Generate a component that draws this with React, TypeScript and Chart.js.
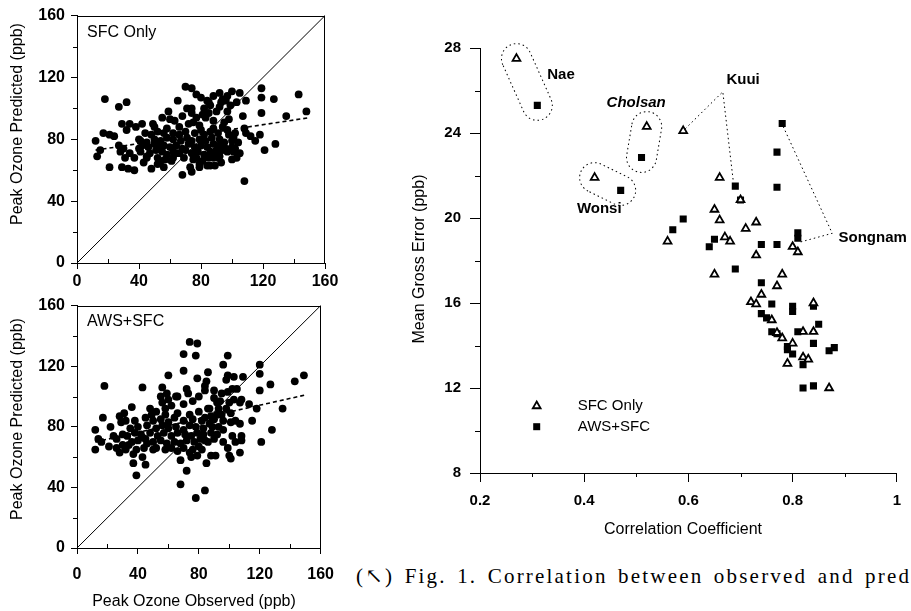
import { useEffect, useRef } from 'react';
import { Chart, registerables } from 'chart.js';

Chart.register(...registerables);

const FONT = "'Liberation Sans', Arial, Helvetica, sans-serif";

// ---------- Left panels: Peak ozone observed vs predicted (ppb) ----------
const ozoneTicks = [0, 40, 80, 120, 160];
const ozoneMinorTicks = [20, 60, 100, 140];

const sfcOnlyPoints: number[][] = [
  [18, 106], [27, 101], [32, 104], [12, 79], [13, 69], [15, 73], [17, 84], [21, 62], [21, 83], [24, 82],
  [27, 76], [28, 72], [29, 62], [33, 61], [29, 90], [32, 86], [34, 90], [38, 88], [42, 90], [37, 60],
  [48, 61], [45, 68], [43, 65], [37, 68], [34, 71], [40, 74], [41, 79], [31, 68], [30, 74],
  [70, 114], [74, 113], [77, 109], [65, 105], [84, 105], [85, 104], [86, 102], [100, 111], [105, 110], [119, 113],
  [119, 107], [127, 106], [143, 109], [148, 98], [135, 95], [119, 97], [103, 104], [109, 105], [99, 102], [97, 98],
  [98, 93], [96, 105], [97, 108], [77, 94], [79, 89], [71, 100], [74, 97], [60, 93], [59, 98], [56, 84],
  [55, 94], [49, 90], [81, 96], [83, 94], [90, 98], [92, 101], [93, 104], [94, 106], [107, 95], [108, 87],
  [109, 84], [112, 82], [115, 79], [118, 83], [121, 73], [128, 77], [105, 71], [102, 74], [103, 68], [100, 79],
  [101, 81], [102, 84], [98, 83], [108, 53],
  [90, 73], [88, 68], [92, 69], [93, 65], [89, 63], [86, 63], [84, 63], [79, 64], [77, 68], [68, 57],
  [73, 62], [62, 68], [64, 71], [54, 66], [45, 69], [91, 68], [100, 67], [101, 72], [52, 64], [56, 62],
  [79, 62], [74, 59],
  [50, 88], [58, 87], [66, 88], [72, 90], [80, 86], [88, 87], [94, 88],
  [44, 84], [48, 83], [52, 85], [62, 84], [66, 83], [70, 85], [76, 84], [82, 83], [86, 85], [91, 84],
  [40, 80], [45, 78], [50, 80], [54, 79], [58, 81], [62, 80], [67, 79], [71, 81], [74, 79], [79, 80],
  [83, 79], [87, 81], [92, 80], [95, 78],
  [42, 76], [46, 75], [50, 77], [53, 75], [56, 76], [60, 75], [64, 76], [68, 74], [72, 77], [76, 75],
  [80, 76], [84, 75], [88, 77], [92, 76], [96, 74],
  [41, 72], [47, 71], [51, 73], [55, 72], [58, 70], [62, 72], [66, 71], [70, 73], [74, 71], [78, 72],
  [82, 70], [86, 72], [90, 71], [94, 73],
  [52, 68], [57, 67], [61, 66], [69, 68], [75, 67], [81, 66], [85, 68],
  [97, 72], [100, 75], [104, 78], [97, 86], [95, 91], [88, 92], [85, 97], [82, 100], [88, 108], [92, 110],
  [80, 107], [74, 100], [68, 95], [63, 92], [75, 91],
];

const awsSfcPoints: number[][] = [
  [74, 136], [79, 135], [70, 128], [78, 127], [99, 127], [120, 121], [70, 117], [79, 112], [60, 114], [96, 121],
  [99, 114], [98, 111], [86, 116], [85, 110], [84, 107], [84, 104], [102, 105], [99, 103], [103, 113], [105, 105],
  [109, 113], [120, 115], [120, 104], [127, 108], [143, 110], [149, 114], [135, 92], [118, 92], [113, 95], [101, 89],
  [95, 102], [94, 97], [93, 92], [92, 88], [90, 104], [72, 105], [73, 102], [56, 106], [55, 100], [59, 102],
  [60, 98], [62, 94], [65, 100], [43, 106], [18, 107], [36, 93], [31, 89], [28, 87], [32, 84], [17, 86],
  [22, 80], [12, 78], [14, 72], [12, 65], [16, 70], [30, 75], [21, 67], [26, 66], [28, 63], [32, 65],
  [39, 65], [37, 62], [37, 56], [39, 48], [43, 60], [45, 55], [43, 73], [45, 72], [50, 65], [48, 92],
  [49, 88],
  [68, 42], [84, 38], [78, 33], [72, 51], [68, 58], [75, 60], [79, 61], [88, 61], [85, 56], [91, 61],
  [100, 61], [101, 59], [101, 83], [104, 84], [107, 63], [108, 71], [108, 74], [102, 74], [107, 82], [115, 84],
  [121, 70], [128, 78], [108, 98], [107, 96], [84, 71], [76, 65], [80, 67], [89, 80], [88, 87], [86, 92],
  [52, 90], [58, 88], [66, 89], [74, 88], [80, 90], [84, 86],
  [38, 84], [45, 86], [50, 84], [55, 85], [60, 83], [64, 86], [70, 84], [76, 85], [82, 84], [90, 85],
  [35, 79], [40, 80], [46, 81], [52, 79], [56, 81], [60, 79], [65, 80], [70, 78], [74, 81], [78, 80],
  [83, 79], [87, 82], [93, 80], [96, 84],
  [33, 74], [38, 76], [42, 75], [48, 76], [53, 74], [57, 76], [62, 74], [66, 76], [71, 75], [75, 74],
  [79, 76], [83, 75], [88, 76], [92, 75], [96, 78],
  [36, 70], [40, 71], [46, 69], [50, 70], [55, 71], [59, 69], [64, 70], [68, 69], [72, 71], [77, 70],
  [81, 72], [86, 70], [90, 72],
  [44, 66], [52, 66], [58, 65], [62, 66], [66, 64], [70, 66], [74, 63], [82, 65],
  [95, 88], [98, 92], [92, 96], [90, 99], [76, 97], [66, 100], [56, 96], [58, 92], [70, 95], [80, 100],
  [87, 92], [100, 96], [103, 98], [96, 70], [99, 66], [104, 70], [30, 68], [26, 72], [34, 68], [24, 74],
  [29, 83],
];

const oneToOneLine: number[][] = [[0, 0], [160, 160]];
const sfcOnlyFit: number[][] = [[12, 73], [150, 94]];
const awsSfcFit: number[][] = [[12, 70], [150, 101]];

// ---------- Right panel: Mean gross error vs correlation coefficient ----------
const corrTicks = [0.2, 0.4, 0.6, 0.8, 1];
const corrMinorTicks = [0.3, 0.5, 0.7, 0.9];
const errorTicks = [8, 12, 16, 20, 24, 28];
const errorMinorTicks = [10, 14, 18, 22, 26];

// [correlation, mean gross error]
const siteSfcOnly: number[][] = [
  [0.27, 27.5], [0.52, 24.3], [0.59, 24.1], [0.42, 21.9], [0.66, 21.9], [0.56, 18.9], [0.65, 20.4],
  [0.66, 19.9], [0.67, 19.1], [0.68, 18.9], [0.71, 19.5], [0.73, 19.8], [0.73, 18.25], [0.80, 18.65],
  [0.81, 18.4], [0.65, 17.35], [0.78, 17.35], [0.77, 16.8], [0.74, 16.4], [0.72, 16.05], [0.73, 15.95],
  [0.84, 16.0], [0.76, 15.2], [0.77, 14.6], [0.78, 14.35], [0.80, 14.1], [0.82, 14.65], [0.84, 14.65],
  [0.79, 13.15], [0.82, 13.45], [0.83, 13.35], [0.87, 12.0], [0.70, 20.85],
];
const siteAwsSfc: number[][] = [
  [0.31, 25.3], [0.51, 22.85], [0.47, 21.3], [0.78, 24.45], [0.77, 23.1], [0.77, 21.45], [0.69, 21.5],
  [0.70, 20.85], [0.59, 19.95], [0.57, 19.45], [0.65, 19.0], [0.64, 18.65], [0.74, 18.75], [0.77, 18.75],
  [0.81, 19.3], [0.81, 19.05], [0.69, 17.6], [0.74, 16.95], [0.76, 15.95], [0.80, 15.85], [0.80, 15.6],
  [0.84, 15.85], [0.74, 15.5], [0.75, 15.3], [0.76, 14.65], [0.77, 14.55], [0.79, 13.95], [0.79, 13.8],
  [0.80, 13.6], [0.81, 14.65], [0.84, 14.1], [0.85, 15.0], [0.82, 13.1], [0.82, 12.0], [0.84, 12.1],
  [0.87, 13.75], [0.88, 13.9],
];
const kuuiLeader: number[][] = [[0.594, 24.2], [0.666, 25.94], [0.686, 21.75]];
const songnamLeader: number[][] = [[0.782, 24.3], [0.876, 19.28], [0.812, 18.85]];
// site pairs enclosed in dotted capsules: [SFC-only index, AWS+SFC index]
const enclosedSites = [
  { name: 'Nae', tri: 0, sq: 0 },
  { name: 'Cholsan', tri: 1, sq: 1 },
  { name: 'Wonsi', tri: 3, sq: 2 },
];
const siteLabels = [
  { text: 'Nae', x: 0.329, y: 26.73, italic: false },
  { text: 'Cholsan', x: 0.443, y: 25.43, italic: true },
  { text: 'Kuui', x: 0.673, y: 26.49, italic: false },
  { text: 'Wonsi', x: 0.386, y: 20.42, italic: false },
  { text: 'Songnam', x: 0.888, y: 19.06, italic: false },
];

const toXY = (arr: number[][]) => arr.map(([x, y]) => ({ x, y }));

// ---------- plugins ----------
const framePlugin = {
  id: 'frame',
  afterDatasetsDraw(chart: any) {
    const { ctx, chartArea: a } = chart;
    ctx.save();
    ctx.strokeStyle = '#000';
    ctx.lineWidth = 1;
    ctx.beginPath();
    ctx.moveTo(a.left, Math.round(a.top) + 0.5);
    ctx.lineTo(a.right, Math.round(a.top) + 0.5);
    ctx.moveTo(Math.round(a.right) - 0.5, a.top);
    ctx.lineTo(Math.round(a.right) - 0.5, a.bottom);
    ctx.stroke();
    ctx.restore();
  },
};

function minorTicks(xs: number[], ys: number[], xLen: number, yLen: number) {
  return {
    id: 'minorTicks',
    afterDraw(chart: any) {
      const { ctx, chartArea: a, scales } = chart;
      ctx.save();
      ctx.strokeStyle = '#000';
      ctx.lineWidth = 1;
      ctx.beginPath();
      xs.forEach((v) => {
        const px = Math.round(scales.x.getPixelForValue(v)) + 0.5;
        ctx.moveTo(px, a.bottom);
        ctx.lineTo(px, a.bottom + xLen);
      });
      ys.forEach((v) => {
        const py = Math.round(scales.y.getPixelForValue(v)) + 0.5;
        ctx.moveTo(a.left, py);
        ctx.lineTo(a.left - yLen, py);
      });
      ctx.stroke();
      ctx.restore();
    },
  };
}

type TextItem = { text: string; x: number; y: number; font: string; rotate?: number; align?: CanvasTextAlign; data?: boolean };
function textPlugin(items: TextItem[]) {
  return {
    id: 'figureText',
    afterDraw(chart: any) {
      const { ctx, scales } = chart;
      items.forEach((it) => {
        let x = it.x;
        let y = it.y;
        if (it.data) {
          x = scales.x.getPixelForValue(it.x);
          y = scales.y.getPixelForValue(it.y);
        }
        ctx.save();
        ctx.translate(x, y);
        if (it.rotate) ctx.rotate(it.rotate);
        ctx.font = it.font;
        ctx.fillStyle = '#000';
        ctx.textAlign = it.align || 'left';
        ctx.textBaseline = 'middle';
        ctx.fillText(it.text, 0, 0);
        ctx.restore();
      });
    },
  };
}

const capsulePlugin = {
  id: 'capsules',
  afterDatasetsDraw(chart: any) {
    const { ctx, scales } = chart;
    const r = 15;
    ctx.save();
    ctx.strokeStyle = '#000';
    ctx.lineWidth = 1;
    ctx.setLineDash([1.5, 3]);
    enclosedSites.forEach((g) => {
      const a = siteSfcOnly[g.tri];
      const b = siteAwsSfc[g.sq];
      const x1 = scales.x.getPixelForValue(a[0]);
      const y1 = scales.y.getPixelForValue(a[1]);
      const x2 = scales.x.getPixelForValue(b[0]);
      const y2 = scales.y.getPixelForValue(b[1]);
      const len = Math.hypot(x2 - x1, y2 - y1);
      const ang = Math.atan2(y2 - y1, x2 - x1);
      ctx.save();
      ctx.translate(x1, y1);
      ctx.rotate(ang);
      ctx.beginPath();
      ctx.arc(0, 0, r, Math.PI / 2, (3 * Math.PI) / 2);
      ctx.lineTo(len, -r);
      ctx.arc(len, 0, r, -Math.PI / 2, Math.PI / 2);
      ctx.closePath();
      ctx.stroke();
      ctx.restore();
    });
    ctx.restore();
  },
};

const legendPlugin = {
  id: 'siteLegend',
  afterDraw(chart: any) {
    const { ctx } = chart;
    ctx.save();
    const tx = 136.7, ty = 406, r = 4.5;
    ctx.beginPath();
    ctx.moveTo(tx, ty - r);
    ctx.lineTo(tx + r * 0.866, ty + r * 0.5);
    ctx.lineTo(tx - r * 0.866, ty + r * 0.5);
    ctx.closePath();
    ctx.fillStyle = '#fff';
    ctx.fill();
    ctx.strokeStyle = '#000';
    ctx.lineWidth = 1.8;
    ctx.stroke();
    ctx.fillStyle = '#000';
    ctx.fillRect(136.7 - 3.5, 426.7 - 3.5, 7, 7);
    ctx.font = `15px ${FONT}`;
    ctx.textAlign = 'left';
    ctx.textBaseline = 'middle';
    ctx.fillText('SFC Only', 177.7, 406);
    ctx.fillText('AWS+SFC', 177.7, 426.7);
    ctx.restore();
  },
};

// ---------- chart builders ----------
function axis(min: number, max: number, ticks: number[], fontSize: number, tickLen: number, pad: number, fit: (s: any) => void) {
  return {
    type: 'linear' as const,
    min,
    max,
    afterBuildTicks: (s: any) => {
      s.ticks = ticks.map((v) => ({ value: v }));
    },
    afterFit: fit,
    ticks: {
      color: '#000',
      font: { family: FONT, size: fontSize, weight: 700 },
      padding: pad,
      maxRotation: 0,
      autoSkip: false,
      callback: (v: number) => String(v),
    },
    grid: { drawOnChartArea: false, color: '#000', tickLength: tickLen, lineWidth: 1 },
    border: { color: '#000', width: 1 },
  };
}

function makeOzoneChart(
  canvas: HTMLCanvasElement,
  points: number[][],
  fit: number[][],
  layout: { padTop: number; xHeight: number; xPad: number },
  texts: TextItem[],
) {
  return new Chart(canvas, {
    type: 'scatter',
    data: {
      datasets: [
        { data: toXY(points), pointRadius: 3.9, pointBackgroundColor: '#000', pointBorderWidth: 0, showLine: false },
        { data: toXY(fit), showLine: true, borderColor: '#000', borderWidth: 1.6, borderDash: [4, 3], pointRadius: 0 },
        { data: toXY(oneToOneLine), showLine: true, borderColor: '#000', borderWidth: 1, pointRadius: 0 },
      ],
    } as any,
    options: {
      responsive: false,
      animation: false,
      events: [],
      layout: { padding: { top: layout.padTop, right: 20, left: 0, bottom: 0 } },
      plugins: { legend: { display: false }, tooltip: { enabled: false } },
      scales: {
        x: axis(0, 160, ozoneTicks, 16, 6, layout.xPad, (s) => { s.height = layout.xHeight; }),
        y: axis(0, 160, ozoneTicks, 16, 6, 6, (s) => { s.width = 77; }),
      },
    } as any,
    plugins: [framePlugin, minorTicks(ozoneMinorTicks, ozoneMinorTicks, -4, 4), textPlugin(texts)] as any,
  });
}

function makeErrorChart(canvas: HTMLCanvasElement) {
  const labelItems: TextItem[] = siteLabels.map((l) => ({
    text: l.text,
    x: l.x,
    y: l.y,
    data: true,
    font: `${l.italic ? 'italic ' : ''}bold 15px ${FONT}`,
  }));
  const leaderStyle = { showLine: true, borderColor: '#000', borderWidth: 1, borderDash: [1.5, 3], pointRadius: 0 };
  return new Chart(canvas, {
    type: 'scatter',
    data: {
      datasets: [
        {
          data: toXY(siteSfcOnly),
          pointStyle: 'triangle',
          pointRadius: 4.5,
          pointBackgroundColor: '#fff',
          pointBorderColor: '#000',
          pointBorderWidth: 1.8,
        },
        {
          data: toXY(siteAwsSfc),
          pointStyle: 'rect',
          pointRadius: 5,
          pointBackgroundColor: '#000',
          pointBorderWidth: 0,
        },
        { data: toXY(kuuiLeader), ...leaderStyle },
        { data: toXY(songnamLeader), ...leaderStyle },
      ],
    } as any,
    options: {
      responsive: false,
      animation: false,
      events: [],
      layout: { padding: { top: 48, right: 9, left: 0, bottom: 0 } },
      plugins: { legend: { display: false }, tooltip: { enabled: false } },
      scales: {
        x: axis(0.2, 1, corrTicks, 15, 9, 10, (s) => { s.height = 87; }),
        y: axis(8, 28, errorTicks, 15, 10, 9, (s) => { s.width = 80; }),
      },
    } as any,
    plugins: [
      capsulePlugin,
      legendPlugin,
      minorTicks(corrMinorTicks, errorMinorTicks, 4, 5),
      textPlugin([
        ...labelItems,
        { text: 'Mean Gross Error (ppb)', x: 20, y: 259, rotate: -Math.PI / 2, align: 'center', font: `16px ${FONT}` },
        { text: 'Correlation Coefficient', x: 283, y: 530, align: 'center', font: `16px ${FONT}` },
      ]),
    ] as any,
  });
}

export default function App() {
  const refA = useRef<HTMLCanvasElement>(null);
  const refB = useRef<HTMLCanvasElement>(null);
  const refC = useRef<HTMLCanvasElement>(null);

  useEffect(() => {
    const charts: Chart[] = [];
    if (refA.current) {
      charts.push(
        makeOzoneChart(refA.current, sfcOnlyPoints, sfcOnlyFit, { padTop: 13, xHeight: 27, xPad: 3 }, [
          { text: 'SFC Only', x: 87, y: 33, font: `16px ${FONT}` },
          { text: 'Peak Ozone Predicted (ppb)', x: 18, y: 124, rotate: -Math.PI / 2, align: 'center', font: `16px ${FONT}` },
        ]),
      );
    }
    if (refB.current) {
      charts.push(
        makeOzoneChart(refB.current, awsSfcPoints, awsSfcFit, { padTop: 10, xHeight: 63, xPad: 11 }, [
          { text: 'AWS+SFC', x: 87, y: 32, font: `16px ${FONT}` },
          { text: 'Peak Ozone Predicted (ppb)', x: 18, y: 129, rotate: -Math.PI / 2, align: 'center', font: `16px ${FONT}` },
          { text: 'Peak Ozone Observed (ppb)', x: 194, y: 312, align: 'center', font: `16px ${FONT}` },
        ]),
      );
    }
    if (refC.current) charts.push(makeErrorChart(refC.current));
    return () => charts.forEach((c) => c.destroy());
  }, []);

  return (
    <div style={{ position: 'fixed', left: 0, top: 0, width: 911, height: 611, overflow: 'hidden', background: '#fff' }}>
      <canvas ref={refA} width={345} height={290} style={{ position: 'absolute', left: 0, top: 0 }} />
      <canvas ref={refB} width={345} height={321} style={{ position: 'absolute', left: 0, top: 290 }} />
      <canvas ref={refC} width={511} height={560} style={{ position: 'absolute', left: 400, top: 0 }} />
      <div
        style={{
          position: 'absolute',
          left: 356,
          top: 564,
          font: "21px 'Liberation Serif', 'DejaVu Serif', serif",
          letterSpacing: '2.2px',
          wordSpacing: '3px',
          whiteSpace: 'nowrap',
          color: '#000',
        }}
      >
        (↖) Fig. 1. Correlation between observed and pred
      </div>
    </div>
  );
}
